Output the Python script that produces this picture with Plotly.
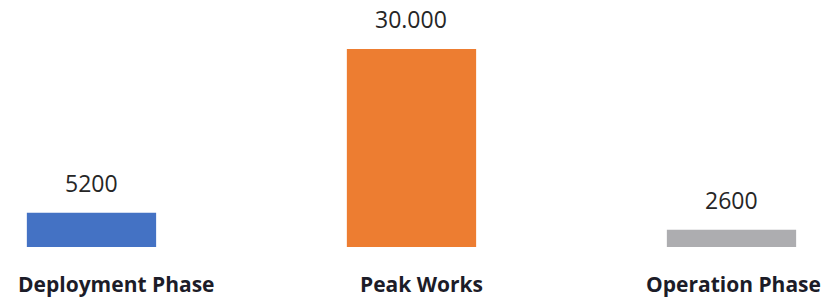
import plotly.graph_objects as go

categories = ["Deployment Phase", "Peak Works", "Operation Phase"]
values = [5200, 30000, 2600]
value_labels = ["5200", "30.000", "2600"]
colors = ["#4472C4", "#ED7D31", "#ADADB0"]

fig = go.Figure()
fig.add_trace(go.Bar(
    x=categories, y=values, marker=dict(color=colors, line=dict(width=0)),
    width=0.404, hoverinfo="skip",
))

label_shift = [25.5, 10, 2]
for i, (c, v, t) in enumerate(zip(categories, values, value_labels)):
    fig.add_annotation(x=c, y=v, xref="x", yref="y", text=t, showarrow=False,
                       yanchor="bottom", yshift=12,
                       font=dict(family="Open Sans", size=23, color="#262626"))
    fig.add_annotation(x=c, y=0, xref="x", yref="y", text="<b>" + c + "</b>",
                       showarrow=False, yanchor="middle", yshift=-37,
                       xshift=label_shift[i],
                       font=dict(family="Open Sans", size=21, color="#1C1C28"))

fig.update_layout(
    width=824, height=297,
    margin=dict(l=0, r=0, t=0, b=50),
    paper_bgcolor="white", plot_bgcolor="white",
    showlegend=False,
    xaxis=dict(range=[-0.2859, 2.2891], showticklabels=False, showgrid=False,
               zeroline=False, showline=False, ticks=""),
    yaxis=dict(range=[0, 37424], showticklabels=False, showgrid=False,
               zeroline=False, showline=False, ticks=""),
)
fig.write_html("out.html", config={"displayModeBar": False},
               post_script="document.body.style.margin='0';document.body.style.overflow='hidden';")
